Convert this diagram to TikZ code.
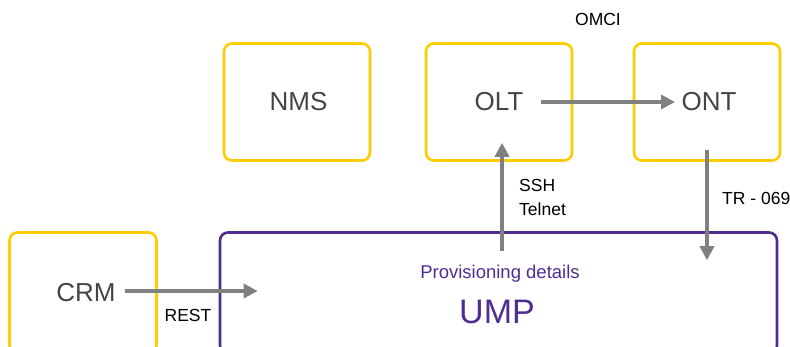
\documentclass[tikz,border=0pt]{standalone}
\usepackage{fontspec}
\setmainfont{Liberation Sans}
\usetikzlibrary{arrows.meta,calc}
\definecolor{boxyellow}{HTML}{FFCC00}
\definecolor{umppurple}{HTML}{4F2D8F}
\definecolor{arrowgray}{HTML}{808080}
\definecolor{labelgray}{HTML}{444444}
\tikzset{
  x=1pt, y=-1pt,
  ybox/.style={draw=boxyellow, line width=2.6pt, rounded corners=8pt,
    minimum width=146pt, minimum height=117pt, inner sep=0pt,
    text=labelgray, font=\fontsize{26}{26}\selectfont},
  pbox/.style={draw=umppurple, line width=2.6pt, rounded corners=8pt, inner sep=0pt},
  flow/.style={draw=arrowgray, line width=4pt,
    -{Triangle[length=14pt,width=14pt]}},
  proto/.style={font=\fontsize{17.5}{24}\selectfont, text=black, inner sep=0pt},
}
\begin{document}
\begin{tikzpicture}
\useasboundingbox (0,0) rectangle (790,347);
\clip (0,0) rectangle (790,347);

% device and system boxes
\node[ybox] (nms) at (297,102) {\hspace*{3pt}NMS};
\node[ybox] (olt) at (499,102) {OLT};
\node[ybox] (ont) at (707,102) {\hspace*{4pt}ONT};
\node[ybox, minimum width=147pt, minimum height=121pt] (crm) at (83,293) {\hspace*{6pt}CRM};
\node[pbox, minimum width=557pt, minimum height=121pt] (ump) at (498.5,293) {};

% UMP labels
\node[text=umppurple, font=\fontsize{18.5}{22}\selectfont, inner sep=0pt] (prov) at (500,274) {Provisioning details};
\node[text=umppurple, font=\fontsize{34}{34}\selectfont, inner sep=0pt] (umpname) at (497,312) {UMP};

% connectors
\draw[flow] ($(olt.center)+(42,0)$) -- ($(ont.center)+(-32,0)$);
\draw[flow] ($(ump.north)+(3.5,20)$) -- ($(olt.south)+(3,-19)$);
\draw[flow] ($(ont.south)+(0,-12)$) -- ($(ump.north)+(208.5,29)$);
\draw[flow] ($(crm.center)+(42,-2)$) -- ($(ump.west)+(39,-2)$);

% protocol labels
\node[proto] (omci) at (598,19) {OMCI};
\node[proto, anchor=west, align=left] (ssh) at (519,197) {SSH\\Telnet};
\node[proto, anchor=west] (tr) at (722,198) {TR - 069};
\node[proto] (rest) at (188,315) {REST};
\end{tikzpicture}
\end{document}
